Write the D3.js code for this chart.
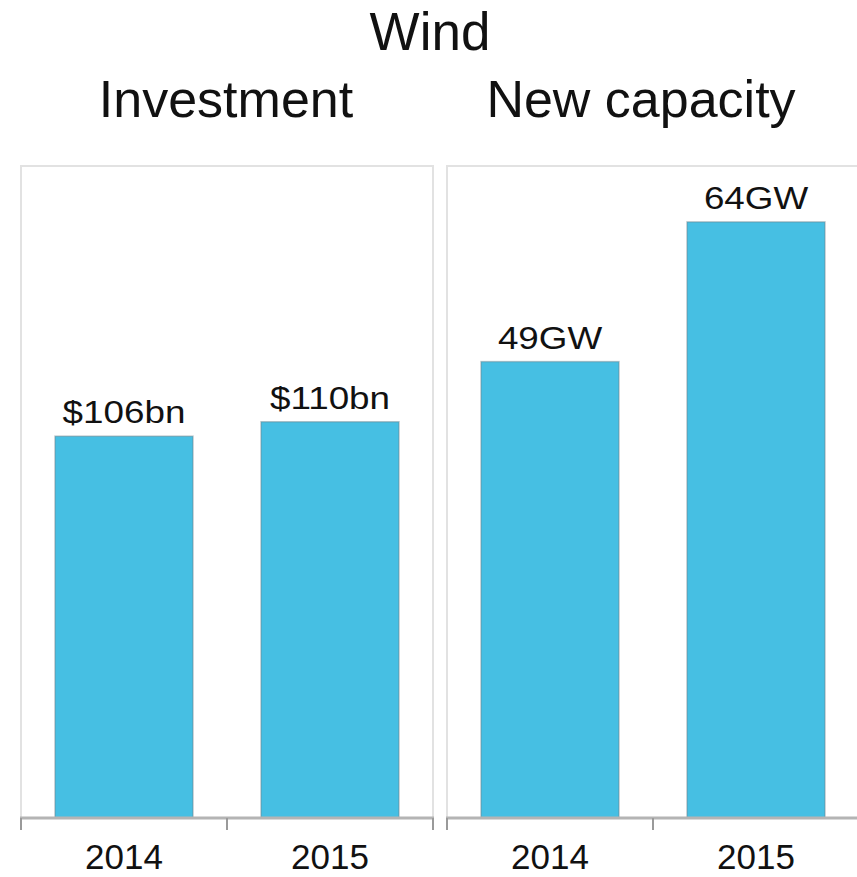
<!DOCTYPE html>
<html>
<head>
<meta charset="utf-8">
<script src="https://cdn.jsdelivr.net/npm/d3@7"></script>
<style>
  body { margin: 0; background: #fff; }
  text { font-family: "Liberation Sans", Arial, sans-serif; fill: #111; }
</style>
</head>
<body>
<div id="chart"></div>
<script>
// ---- data ----
var chartTitle = "Wind";
var years = ["2014", "2015"];
var investment = [106, 110];           // $bn
var investmentLabels = ["$106bn", "$110bn"];
var capacity = [49, 64];               // GW
var capacityLabels = ["49GW", "64GW"];

var width = 857, height = 877;

var svg = d3.select("#chart").append("svg")
    .attr("width", width)
    .attr("height", height);

// title
svg.append("text")
    .attr("x", 430).attr("y", 50)
    .attr("text-anchor", "middle")
    .style("font-size", "53px")
    .text(chartTitle);

var baseY = 818, topY = 166;

// one panel per measure
var panels = [
  {title: "Investment", values: investment, labels: investmentLabels, x0: 21, max: 181, tx: 226},
  {title: "New capacity", values: capacity, labels: capacityLabels, x0: 447, max: 70, tx: 641}
];

panels.forEach(function(p) {
  var x = d3.scaleBand()
      .domain(years)
      .range([p.x0, p.x0 + 412])
      .paddingInner(0.33)
      .paddingOuter(0.165);

  var y = d3.scaleLinear()
      .domain([0, p.max])
      .range([baseY, topY]);

  var g = svg.append("g");

  // panel title
  g.append("text")
      .attr("x", p.tx).attr("y", 117)
      .attr("text-anchor", "middle")
      .style("font-size", "52px")
      .text(p.title);

  // panel frame
  g.append("rect")
      .attr("x", p.x0).attr("y", topY)
      .attr("width", 412).attr("height", baseY - topY)
      .attr("fill", "none")
      .attr("stroke", "#e2e2e2")
      .attr("stroke-width", 2);

  // bars
  g.selectAll(".bar")
      .data(p.values)
      .enter().append("rect")
      .attr("class", "bar")
      .attr("x", function(d, i) { return x(years[i]); })
      .attr("y", function(d) { return y(d); })
      .attr("width", x.bandwidth())
      .attr("height", function(d) { return baseY - y(d); })
      .attr("fill", "#46bfe3")
      .attr("stroke", "rgba(110,130,140,0.45)")
      .attr("stroke-width", 1.5);

  // value labels (stretched a bit horizontally like the original)
  g.selectAll(".lbl")
      .data(p.values)
      .enter().append("text")
      .attr("class", "lbl")
      .attr("text-anchor", "middle")
      .attr("transform", function(d, i) {
        return "translate(" + (x(years[i]) + x.bandwidth() / 2) + "," + (y(d) - 13) + ") scale(1.15,1)";
      })
      .style("font-size", "32px")
      .text(function(d, i) { return p.labels[i]; });

  // x axis
  var axis = d3.axisBottom(x).tickSize(0).tickPadding(0);
  var ax = g.append("g")
      .attr("transform", "translate(0," + baseY + ")")
      .call(axis);
  ax.select(".domain").remove();
  ax.selectAll("text")
      .attr("y", 51)
      .attr("dy", 0)
      .style("font-size", "35px")
      .style("fill", "#111");

  ax.append("line")
      .attr("x1", p.x0 - 1).attr("x2", p.x0 + 413)
      .attr("stroke", "#b4b4b4").attr("stroke-width", 3);

  // ticks at band boundaries
  var bounds = [p.x0, p.x0 + 206, p.x0 + 412];
  ax.selectAll(".btick")
      .data(bounds)
      .enter().append("line")
      .attr("class", "btick")
      .attr("x1", function(d) { return d; })
      .attr("x2", function(d) { return d; })
      .attr("y1", 0).attr("y2", 12)
      .attr("stroke", "#9a9a9a").attr("stroke-width", 2);
});
</script>
</body>
</html>
